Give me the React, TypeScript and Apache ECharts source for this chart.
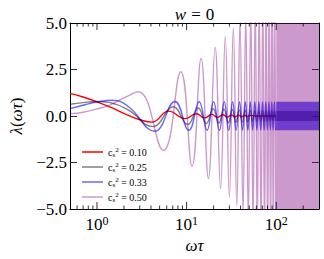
import React, { useEffect, useRef } from 'react';
import * as echarts from 'echarts';

const FONT = "'Liberation Serif', 'DejaVu Serif', serif";

// legend values (c_s^2)
const SERIES_LABELS = ['0.10', '0.25', '0.33', '0.50'];
const COLORS = ['#ff0000', 'rgba(0,0,0,0.5)', 'rgba(0,0,255,0.6)', 'rgba(128,0,128,0.4)'];

// red, c_s^2 = 0.10 (read extrema)
const redX = [0.5, 0.7, 1.0, 1.5, 2.25, 3.0, 4.1, 6.3, 9.6, 12.8, 15.9, 19.1, 22.2, 25.4, 28.5, 31.7, 34.8, 38.0, 41.1, 44.3, 47.4, 50.6, 60, 100];
const redY = [1.22, 1.02, 0.76, 0.42, 0.03, -0.2, -0.33, 0.26, -0.14, 0.12, -0.1, 0.085, -0.075, 0.066, -0.06, 0.055, -0.05, 0.046, -0.043, 0.04, -0.038, 0.036, 0, 0];

// gray, c_s^2 = 0.25
const grayX = [0.5, 0.7, 1.0, 1.4, 2.25, 4.2, 7.1, 10.3, 13.5, 16.6, 19.8, 22.9, 26.1, 29.2, 32.4, 35.5, 38.7, 41.8, 45.0, 48.1, 51.3, 54.4, 57.6, 60.7, 63.9, 67.0, 70.2, 73.3, 76.5, 79.6, 82.8, 85.9, 89.1, 92.2, 95.4, 98.5];
const grayY = [0.63, 0.72, 0.78, 0.72, 0.31, -0.57, 0.5, -0.46, 0.43, -0.41, 0.39, -0.38, 0.37, -0.36, 0.35, -0.34, 0.33, -0.33, 0.32, -0.32, 0.31, -0.31, 0.3, -0.3, 0.3, -0.29, 0.29, -0.29, 0.29, -0.28, 0.28, -0.28, 0.28, -0.28, 0.27, -0.27];

// blue, c_s^2 = 0.33
const blueX = [0.5, 0.75, 1.0, 1.47, 2.25, 4.4, 7.4, 10.6, 13.8, 16.9, 20.0, 23.2, 26.3, 29.5, 32.6, 35.7, 38.9, 42.0, 45.2, 48.3, 51.4, 54.6, 57.7, 60.9, 64.0, 67.2, 70.3, 73.4, 76.6, 79.7, 82.9, 86.0, 89.2, 92.3, 95.4, 98.6];
const blueY = [0.4, 0.62, 0.75, 0.85, 0.5, -0.82, 0.78, -0.77, 0.77, -0.77, 0.77, -0.77, 0.77, -0.77, 0.77, -0.77, 0.77, -0.77, 0.77, -0.77, 0.77, -0.77, 0.77, -0.77, 0.77, -0.77, 0.77, -0.77, 0.77, -0.77, 0.77, -0.77, 0.77, -0.77, 0.77, -0.77];

// purple, c_s^2 = 0.50
const purpleX = [0.5, 0.7, 1.0, 1.4, 2.0, 2.9, 5.5, 8.6, 11.5, 14.5, 17.5, 20.8, 23.9, 27.0, 30.0, 33.2, 36.3, 39.4, 42.6, 45.7, 48.8, 52.0, 55.1, 58.3, 61.4, 64.5, 67.7, 70.8, 74.0, 77.1, 80.2, 83.4, 86.5, 89.7, 92.8, 95.9, 99.1];
const purpleY = [0.12, 0.2, 0.38, 0.6, 0.98, 1.3, -1.85, 2.38, -2.7, 3.1, -3.35, 3.7, -3.9, 4.28, -4.37, 4.75, -4.85, 5.1, -5.2, 5.4, -5.6, 5.8, -5.9, 6.1, -6.3, 6.4, -6.6, 6.7, -6.9, 7.0, -7.2, 7.3, -7.4, 7.6, -7.7, 7.8, -8.0];

// dense oscillation bands at high ωτ (half widths)
const BAND_X = [100, 300];
const BAND_HALF = [0, 0.27, 0.77, 5];

const X_MIN = 0.5;
const X_MAX = 300;
const Y_MIN = -5;
const Y_MAX = 5;
const Y_INTERVAL = 2.5;

const X_MAJOR = [1, 10, 100];
const X_MAJOR_EXP = ['0', '1', '2'];
const X_MINOR = [0.6, 0.7, 0.8, 0.9, 2, 3, 4, 5, 6, 7, 8, 9, 20, 30, 40, 50, 60, 70, 80, 90, 200];

const SERIES_XS = [redX, grayX, blueX, purpleX];
const SERIES_YS = [redY, grayY, blueY, purpleY];

export default function App() {
  const ref = useRef<HTMLDivElement>(null);
  useEffect(() => {
    document.body.style.margin = '0';
    const chart = echarts.init(ref.current!, null, { renderer: 'svg' });
    const lineSeries: any[] = SERIES_LABELS.map((name, i) => {
      const s: any = {
        type: 'line',
        name,
        data: SERIES_XS[i].map((x, j) => [x, SERIES_YS[i][j]]),
        xAxisIndex: 0,
        yAxisIndex: 0,
        symbol: 'none',
        showSymbol: false,
        smooth: 0.45,
        color: COLORS[i],
        lineStyle: { color: COLORS[i], width: 1.4 },
        clip: true,
        z: 2,
      };
      if (BAND_HALF[i] > 0) {
        s.markArea = {
          silent: true,
          itemStyle: { color: COLORS[i], borderWidth: 0 },
          data: [[{ coord: [BAND_X[0], -BAND_HALF[i]] }, { coord: [BAND_X[1], BAND_HALF[i]] }]],
        };
      }
      return s;
    });

    const tickData = [
      ...X_MAJOR.map((v, i) => [v, 1, i]),
      ...X_MINOR.map((v) => [v, 0, -1]),
    ];

    const option: any = {
      animation: false,
      backgroundColor: '#ffffff',
      textStyle: { fontFamily: FONT },
      grid: { left: 70, top: 23, width: 249, height: 186, containLabel: false },
      graphic: [
        {
          type: 'text',
          x: 194.5,
          y: 14,
          style: {
            text: '{i|w}{e|=}0',
            align: 'center',
            verticalAlign: 'middle',
            fontFamily: FONT,
            fontSize: 17,
            fill: '#000',
            rich: {
              i: { fontStyle: 'italic', fontFamily: FONT, fontSize: 17 },
              e: { fontFamily: FONT, fontSize: 17, padding: [0, 5, 0, 5] },
            },
          },
        },
      ],
      legend: {
        data: SERIES_LABELS,
        orient: 'vertical',
        left: 77,
        top: 141,
        itemWidth: 21,
        itemHeight: 1.5,
        itemGap: 3,
        icon: 'rect',
        formatter: (n: string) => `c{sub|s}{sup|2} = ${n}`,
        textStyle: {
          fontFamily: FONT,
          fontSize: 10,
          color: '#000',
          lineHeight: 12,
          rich: {
            sub: { fontFamily: FONT, fontSize: 7, verticalAlign: 'bottom', lineHeight: 12 },
            sup: { fontFamily: FONT, fontSize: 7, verticalAlign: 'top', lineHeight: 12 },
          },
        },
      },
      xAxis: [
        {
          type: 'log',
          logBase: 10,
          min: X_MIN,
          max: X_MAX,
          position: 'bottom',
          name: '{i|ωτ}',
          nameLocation: 'middle',
          nameGap: 28,
          nameTextStyle: {
            fontFamily: FONT,
            fontSize: 17,
            color: '#000',
            rich: { i: { fontStyle: 'italic', fontFamily: FONT, fontSize: 17 } },
          },
          axisLine: { show: true, onZero: false, lineStyle: { color: '#000', width: 1 } },
          axisTick: { show: false },
          axisLabel: { show: false },
          splitLine: { show: false },
          minorTick: { show: false },
        },
        {
          type: 'log',
          logBase: 10,
          min: X_MIN,
          max: X_MAX,
          position: 'top',
          axisLine: { show: true, onZero: false, lineStyle: { color: '#000', width: 1 } },
          axisTick: { show: false },
          axisLabel: { show: false },
          splitLine: { show: false },
        },
      ],
      yAxis: [
        {
          type: 'value',
          min: Y_MIN,
          max: Y_MAX,
          interval: Y_INTERVAL,
          position: 'left',
          name: '{i|λ}({i|ωτ})',
          nameLocation: 'middle',
          nameGap: 45,
          nameRotate: 90,
          nameTextStyle: {
            fontFamily: FONT,
            fontSize: 17,
            color: '#000',
            rich: { i: { fontStyle: 'italic', fontFamily: FONT, fontSize: 17 } },
          },
          axisLine: { show: true, onZero: false, lineStyle: { color: '#000', width: 1 } },
          axisTick: { show: true, inside: true, length: 7, lineStyle: { color: '#000', width: 0.8 } },
          axisLabel: {
            show: true,
            margin: 3,
            fontFamily: FONT,
            fontSize: 17,
            color: '#000',
            formatter: (v: number) => (v < 0 ? '\u2212' : '') + Math.abs(v).toFixed(1),
          },
          splitLine: { show: false },
        },
        {
          type: 'value',
          min: Y_MIN,
          max: Y_MAX,
          interval: Y_INTERVAL,
          position: 'right',
          axisLine: { show: true, onZero: false, lineStyle: { color: '#000', width: 1 } },
          axisTick: { show: true, inside: true, length: 7, lineStyle: { color: '#000', width: 0.8 } },
          axisLabel: { show: false },
          splitLine: { show: false },
        },
      ],
      series: [
        ...lineSeries,
        {
          type: 'custom',
          name: 'xticks',
          xAxisIndex: 0,
          yAxisIndex: 0,
          silent: true,
          z: 10,
          clip: false,
          data: tickData,
          renderItem: (params: any, api: any) => {
            const v = api.value(0);
            const major = api.value(1) === 1;
            const idx = api.value(2);
            const b = api.coord([v, Y_MIN]);
            const t = api.coord([v, Y_MAX]);
            const len = major ? 7 : 3.5;
            const st = { stroke: '#000', lineWidth: 0.8 };
            const children: any[] = [
              { type: 'line', shape: { x1: b[0], y1: b[1], x2: b[0], y2: b[1] - len }, style: st },
              { type: 'line', shape: { x1: t[0], y1: t[1], x2: t[0], y2: t[1] + len }, style: st },
            ];
            if (major) {
              children.push({
                type: 'text',
                x: b[0],
                y: b[1] + 15,
                style: {
                  text: '10{e|' + X_MAJOR_EXP[idx] + '}',
                  align: 'center',
                  verticalAlign: 'middle',
                  fontFamily: FONT,
                  fontSize: 17,
                  lineHeight: 19,
                  fill: '#000',
                  rich: { e: { fontFamily: FONT, fontSize: 12, verticalAlign: 'top', lineHeight: 19 } },
                },
              });
            }
            return { type: 'group', children };
          },
        },
      ],
    };
    chart.setOption(option);
    return () => chart.dispose();
  }, []);
  return <div ref={ref} style={{ width: 324, height: 259 }} />;
}
